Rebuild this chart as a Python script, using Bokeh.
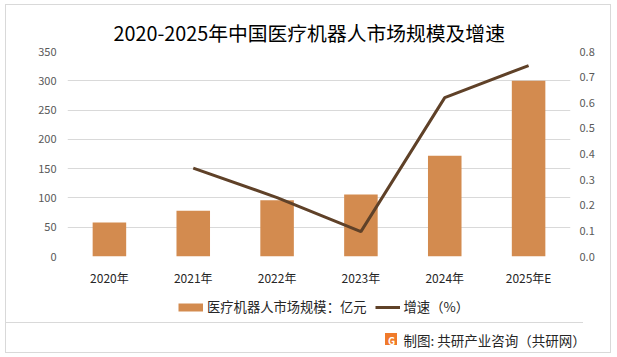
from bokeh.plotting import figure
from bokeh.layouts import column
from bokeh.models import (FactorRange, Range1d, LinearAxis, FixedTicker, Legend, LegendItem,
                          Label, ColumnDataSource, NumeralTickFormatter)
from bokeh.embed import file_html
from bokeh.resources import INLINE

# ---- data ----
years = ["2020年", "2021年", "2022年", "2023年", "2024年", "2025年E"]
market = [58, 78, 96, 106, 172, 300]          # 亿元
growth_years = ["2021年", "2022年", "2023年", "2024年", "2025年E"]
growth = [0.345, 0.23, 0.097, 0.62, 0.745]    # 增速
left_ticks = [0, 50, 100, 150, 200, 250, 300, 350]
right_ticks = [0.0, 0.1, 0.2, 0.3, 0.4, 0.5, 0.6, 0.7, 0.8]

title_text = "2020-2025年中国医疗机器人市场规模及增速"
bar_label = "医疗机器人市场规模：亿元"
line_label = "增速（%）"
source_text = "制图: 共研产业咨询（共研网）"

FONT = "Noto Sans CJK SC"
BAR_COLOR = "#D38B4F"
LINE_COLOR = "#5F4128"
GRID = "#D9D9D9"
NAN = float("nan")

W, H = 617, 357
H1 = 292                            # height of the chart part; footer below
H2 = H - H1
FL, FT, FR, FB = 67, 51, 570, 256   # frame edges in canvas px

def g(x, y, w, h, c=GRID):
    return f"linear-gradient({c},{c}) {x}px {y}px / {w}px {h}px no-repeat"

bg = ", ".join([
    g(5, 4, 606, 1), g(5, 352, 606, 1), g(5, 4, 1, 349), g(610, 4, 1, 349),   # outer border
    g(5, 322, 578, 1),                                                        # separator
    g(385, 333, 12, 12, "#F07A2A"),                                           # logo square
    "white",
])

# ---------------- main chart ----------------
p = figure(width=W, height=H1, x_range=FactorRange(*years), y_range=Range1d(0, 350),
           output_backend="svg", toolbar_location=None, frame_align=False,
           min_border_left=FL, min_border_right=W - FR, min_border_top=FT, min_border_bottom=H1 - FB,
           outline_line_color=None, background_fill_color="white", border_fill_alpha=0)
p.x_range.range_padding = 0
p.extra_y_ranges = {"pct": Range1d(0, 0.8)}

src = ColumnDataSource(dict(x=years, y=market))
p.vbar(x="x", top="y", width=0.4, source=src, fill_color=BAR_COLOR, line_color=None)
lsrc = ColumnDataSource(dict(x=growth_years, y=growth))
p.line(x="x", y="y", source=lsrc, y_range_name="pct", line_color=LINE_COLOR, line_width=3)

p.title.text = title_text
p.title.align = "left"
p.title.offset = 46
p.title.standoff = 9
p.title.text_font = FONT
p.title.text_font_size = "19.8px"
p.title.text_font_style = "normal"
p.title.text_color = "#000000"

p.xaxis.axis_line_color = None
p.xaxis.major_tick_line_color = None
p.xaxis.minor_tick_line_color = None
p.xaxis.major_tick_out = 0
p.xaxis.major_tick_in = 0
p.xaxis.major_label_text_font = FONT
p.xaxis.major_label_text_font_size = "12px"
p.xaxis.major_label_text_color = "#262626"
p.xaxis.major_label_standoff = 12

p.yaxis.ticker = FixedTicker(ticks=left_ticks)
p.yaxis.axis_line_color = None
p.yaxis.major_tick_line_color = None
p.yaxis.minor_tick_line_color = None
p.yaxis.major_tick_out = 0
p.yaxis.major_label_standoff = 11
p.yaxis.major_label_text_font = FONT
p.yaxis.major_label_text_font_size = "11px"
p.yaxis.major_label_text_color = "#595959"

ra = LinearAxis(y_range_name="pct", ticker=FixedTicker(ticks=right_ticks),
                formatter=NumeralTickFormatter(format="0.0"))
ra.axis_line_color = None
ra.major_tick_line_color = None
ra.minor_tick_line_color = None
ra.major_tick_out = 0
ra.major_label_standoff = 9
ra.major_label_text_font = FONT
ra.major_label_text_font_size = "11px"
ra.major_label_text_color = "#595959"
p.add_layout(ra, "right")

p.xgrid.grid_line_color = None
p.ygrid.grid_line_color = GRID
p.ygrid.grid_line_width = 1
p.ygrid.ticker = FixedTicker(ticks=left_ticks)

# ---------------- footer (legend + source) ----------------
# data coords of the footer = page pixels (x right, y down from the top of the footer)
f = figure(width=W, height=H2, x_range=Range1d(0, W), y_range=Range1d(H2, 0),
           x_axis_type=None, y_axis_type=None, frame_align=False,
           output_backend="svg", toolbar_location=None,
           min_border_left=0, min_border_right=0, min_border_top=0, min_border_bottom=0,
           outline_line_color=None, background_fill_alpha=0, border_fill_alpha=0)
f.grid.visible = False

# legend keys (nothing drawn in the plot itself: NaN data)
key_bar = f.line(x=[0, 1], y=[NAN, NAN], line_color=BAR_COLOR, line_width=8, line_cap="butt")
key_line = f.line(x=[0, 1], y=[NAN, NAN], line_color=LINE_COLOR, line_width=3, line_cap="butt")

legend = Legend(items=[LegendItem(label=bar_label, renderers=[key_bar]),
                       LegendItem(label=line_label, renderers=[key_line])],
                location=(178, H - 316), orientation="horizontal",
                padding=0, margin=0, spacing=8, label_standoff=4,
                glyph_width=25, glyph_height=18, label_height=18,
                border_line_color=None, background_fill_alpha=0,
                label_text_font=FONT, label_text_font_size="13.3px", label_text_color="#262626")
f.add_layout(legend, "center")

f.add_layout(Label(x=391, y=339.5 - H1, text="G", text_align="center", text_baseline="middle",
                   text_font=FONT, text_font_style="bold", text_font_size="10px", text_color="white"))
f.add_layout(Label(x=403, y=339 - H1, text=source_text, text_align="left", text_baseline="middle",
                   text_font=FONT, text_font_size="13.5px", text_color="#262626"))

layout = column(p, f, spacing=0)
layout.styles = {"background": bg}

open("out.html", "w").write(file_html(layout, INLINE))
